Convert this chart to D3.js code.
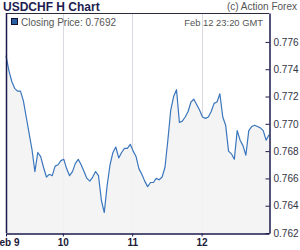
<!DOCTYPE html>
<html><head><meta charset="utf-8">
<script src="https://cdnjs.cloudflare.com/ajax/libs/d3/7.8.5/d3.min.js"></script>
<style>body{margin:0;background:#fff}svg{display:block}</style>
</head><body>
<script>
const title = "USDCHF H Chart";
const copyright = "(c) Action Forex";
const stamp = "Feb 12 23:20 GMT";
const legendLabel = "Closing Price: 0.7692";
const startTime = "2015-02-09T04:20:00Z";
const closes = [0.7750,0.7739,0.7731,0.7726,0.7724,0.7724,0.7717,0.7705,0.7693,0.7681,
0.7665,0.7679,0.7676,0.7668,0.7661,0.7663,0.7662,0.7669,0.7670,0.7673,
0.7674,0.7667,0.7662,0.7665,0.7671,0.7674,0.7670,0.7665,0.7660,0.7658,
0.7661,0.7665,0.7662,0.7644,0.7635,0.7655,0.7670,0.7679,0.7683,0.7675,
0.7679,0.7682,0.7682,0.7685,0.7680,0.7676,0.7667,0.7663,0.7658,0.7654,
0.7657,0.7657,0.7660,0.7659,0.7661,0.7668,0.7688,0.7710,0.7720,0.7725,
0.7701,0.7702,0.7705,0.7709,0.7716,0.7718,0.7714,0.7710,0.7705,0.7704,
0.7705,0.7709,0.7715,0.7716,0.7722,0.7705,0.7699,0.7680,0.7678,0.7674,
0.7695,0.7688,0.7684,0.7677,0.7695,0.7698,0.7699,0.7698,0.7697,0.7695,
0.7688,0.7692];
const yTicks = [0.762,0.764,0.766,0.768,0.770,0.772,0.774,0.776];
const xTickDates = ["2015-02-09T04:20:00Z","2015-02-10T00:00:00Z","2015-02-11T00:00:00Z","2015-02-12T00:00:00Z"];
const xTickLabels = ["Feb 9","10","11","12"];

const W=300,H=250, L=6, R=269, T=13, B=233;
const t0 = new Date(startTime);
const data = closes.map((v,i)=>({t:d3.timeHour.offset(t0,i), v}));
const svg = d3.select("body").append("svg").attr("width",W).attr("height",H)
  .style("font-family","'Liberation Sans', Arial, sans-serif");

const x = d3.scaleTime().domain(d3.extent(data,d=>d.t)).range([L,R]);
const y = d3.scaleLinear().domain([0.762,0.77812]).range([B,T]);

svg.append("rect").attr("x",L).attr("y",T).attr("width",R-L).attr("height",B-T).attr("fill","#fff");
// grid
const xt = xTickDates.map(s=>new Date(s));
svg.selectAll(".grid").data(xt.slice(1)).join("line")
  .attr("x1",d=>Math.round(x(d))+0.5).attr("x2",d=>Math.round(x(d))+0.5)
  .attr("y1",T).attr("y2",B).attr("stroke","#d9d9e1").attr("stroke-width",1);
// area + line
svg.append("path").datum(data).attr("fill","#f3f3f3").attr("fill-opacity",0.9)
  .attr("d",d3.area().x(d=>x(d.t)).y0(B).y1(d=>y(d.v)));
svg.append("path").datum(data).attr("fill","none").attr("stroke","#3a76bd").attr("stroke-width",1.2)
  .attr("stroke-linejoin","round")
  .attr("d",d3.line().x(d=>x(d.t)).y(d=>y(d.v)));
// frame
svg.append("line").attr("x1",L).attr("x2",R).attr("y1",T+0.5).attr("y2",T+0.5).attr("stroke","#2a2a3a");
svg.append("line").attr("x1",L+0.5).attr("x2",L+0.5).attr("y1",T).attr("y2",B).attr("stroke","#1a1a4a").attr("stroke-width",1.5);

// axes
const yAxis = d3.axisRight(y).tickValues(yTicks).tickFormat(d3.format(".3f")).tickSizeInner(-4).tickSizeOuter(0).tickPadding(4);
const gy = svg.append("g").attr("transform",`translate(${R+0.5},0)`).call(yAxis);
gy.select(".domain").attr("stroke","#1a1a4a").attr("stroke-width",1.5);
gy.selectAll(".tick line").attr("stroke","#1a1a4a");
gy.selectAll("text").attr("fill","#333344").style("font-size","10px").attr("x",4);

const xAxis = d3.axisBottom(x).tickValues(xt).tickFormat((d,i)=>xTickLabels[i]).tickSizeInner(3).tickSizeOuter(0).tickPadding(2);
const gx = svg.append("g").attr("transform",`translate(0,${B+0.5})`).call(xAxis);
gx.select(".domain").attr("stroke","#1a1a4a").attr("stroke-width",1.5);
gx.selectAll(".tick line").attr("stroke","#1a1a4a");
gx.selectAll("text").attr("fill","#1a1a3a").style("font-size","10px").style("font-weight","bold");

// texts
svg.append("text").attr("x",3).attr("y",11).text(title)
  .style("font-size","12px").style("font-weight","bold").attr("fill","#1c1c50");
svg.append("text").attr("x",297).attr("y",10).attr("text-anchor","end").text(copyright)
  .style("font-size","10px").attr("fill","#555");
svg.append("rect").attr("x",11.5).attr("y",18.5).attr("width",6).attr("height",6)
  .attr("fill","#2c5fa0").attr("stroke","#111133");
svg.append("text").attr("x",21).attr("y",25.5).text(legendLabel)
  .style("font-size","10px").attr("fill","#555");
svg.append("text").attr("x",263).attr("y",25.5).attr("text-anchor","end").text(stamp)
  .style("font-size","9.4px").attr("fill","#555");
</script>
</body></html>
